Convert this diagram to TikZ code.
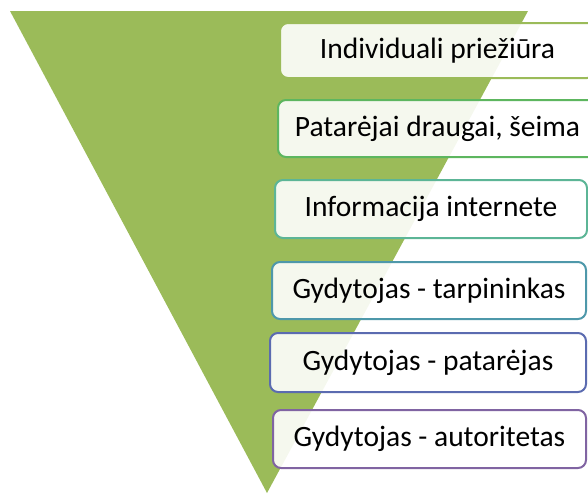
\documentclass[tikz,border=0pt]{standalone}
\usepackage{fontspec}
\setmainfont{Carlito}
\definecolor{tri}{HTML}{9BBB59}
\definecolor{c1}{HTML}{9BBB59}
\definecolor{c2}{HTML}{5DB65F}
\definecolor{c3}{HTML}{5CB596}
\definecolor{c4}{HTML}{4E98AA}
\definecolor{c5}{HTML}{5B6BB0}
\definecolor{c6}{HTML}{8064A2}
\tikzset{
  box/.style={draw=#1, line width=2pt, rounded corners=8pt, fill=white, fill opacity=0.9, text opacity=1,
    inner sep=0pt, font=\fontsize{29.5}{35}\selectfont, text=black},
}
\begin{document}
\begin{tikzpicture}[x=1pt,y=-1pt]
\useasboundingbox (0,0) rectangle (588,496);
\clip (0,0) rectangle (588,496);
\fill[tri] (10,11) -- (528,11) -- (267,493) -- cycle;
\node[box=c1, minimum width=315pt, minimum height=55pt] (b1) at (437.5,50.5) {Individuali priežiūra};
\node[box=c2, minimum width=319pt, minimum height=57pt] (b2) at (437.5,128.5) {Patarėjai draugai, šeima};
\node[box=c3, minimum width=312pt, minimum height=58pt] (b3) at (431,209) {Informacija internete};
\node[box=c4, minimum width=314pt, minimum height=57pt] (b4) at (429,290.5) {Gydytojas - tarpininkas};
\node[box=c5, minimum width=316pt, minimum height=59pt] (b5) at (428,362.5) {Gydytojas - patarėjas};
\node[box=c6, minimum width=313pt, minimum height=58pt] (b6) at (429.5,439) {Gydytojas - autoritetas};
\end{tikzpicture}
\end{document}
